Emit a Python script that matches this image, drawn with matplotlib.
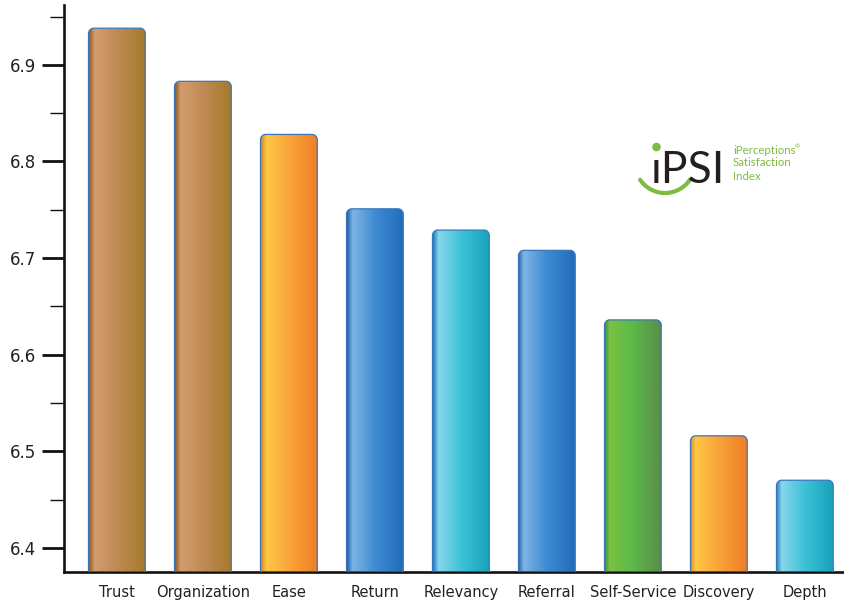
import numpy as np
import matplotlib
matplotlib.use("Agg")
import matplotlib.pyplot as plt
from matplotlib.colors import LinearSegmentedColormap
from matplotlib.path import Path
from matplotlib.patches import PathPatch, Circle
from matplotlib.ticker import MultipleLocator, FormatStrFormatter

categories = ["Trust", "Organization", "Ease", "Return", "Relevancy",
              "Referral", "Self-Service", "Discovery", "Depth"]
scores = [6.938, 6.883, 6.828, 6.751, 6.729, 6.708, 6.636, 6.516, 6.470]
bar_styles = ["bronze", "bronze", "orange", "blue", "cyan",
              "blue", "green", "orange", "cyan"]

# horizontal gradient stops: dark edge, highlight, middle, shaded side
palettes = {
    "bronze": ["#8a5c28", "#d39c6e", "#bf8a55", "#a57a2b"],
    "orange": ["#d88a1c", "#ffc746", "#f9a43a", "#ef7e25"],
    "blue":   ["#1e5fae", "#7fb4e4", "#3d8bd2", "#216cb8"],
    "cyan":   ["#1a7cc4", "#88d6ea", "#3cc2d8", "#17a2bb"],
    "green":  ["#2b8b3c", "#7cc142", "#5bb94a", "#5b8d47"],
}
stops = [0.0, 0.1, 0.5, 1.0]

fig = plt.figure(figsize=(8.44, 6.02), dpi=100)
ax = fig.add_axes([64 / 844, 30 / 602, 1 - 64 / 844, 567 / 602])

ymin, ymax = 6.375, 6.962
width = 0.66
x = np.arange(len(categories))


def rounded_top(x0, x1, y0, y1, rx, ry):
    k = 0.5523
    verts = [(x0, y0), (x0, y1 - ry),
             (x0, y1 - ry + k * ry), (x0 + rx - k * rx, y1), (x0 + rx, y1),
             (x1 - rx, y1),
             (x1 - rx + k * rx, y1), (x1, y1 - ry + k * ry), (x1, y1 - ry),
             (x1, y0), (x0, y0)]
    codes = [Path.MOVETO, Path.LINETO,
             Path.CURVE4, Path.CURVE4, Path.CURVE4,
             Path.LINETO,
             Path.CURVE4, Path.CURVE4, Path.CURVE4,
             Path.LINETO, Path.CLOSEPOLY]
    return Path(verts, codes)


grad = np.linspace(0, 1, 256).reshape(1, -1)
for xi, val, st in zip(x, scores, bar_styles):
    x0, x1 = xi - width / 2, xi + width / 2
    cmap = LinearSegmentedColormap.from_list(st, list(zip(stops, palettes[st])))
    path = rounded_top(x0, x1, ymin, val, 0.06, 0.0055)
    clip = PathPatch(path, facecolor="none", edgecolor="none")
    ax.add_patch(clip)
    im = ax.imshow(grad, extent=[x0, x1, ymin, val], aspect="auto",
                   cmap=cmap, interpolation="bilinear", zorder=2)
    im.set_clip_path(clip)
    ax.add_patch(PathPatch(path, facecolor="none", edgecolor="#3b76bb",
                           lw=0.9, zorder=3))

ax.set_xlim(-0.615, 8.455)
ax.set_ylim(ymin, ymax)
ax.set_xticks(x)
ax.set_xticklabels(categories)
ax.tick_params(axis="x", length=0, pad=9.5, labelsize=10.5)
ax.yaxis.set_major_locator(MultipleLocator(0.1))
ax.yaxis.set_minor_locator(MultipleLocator(0.05))
ax.yaxis.set_major_formatter(FormatStrFormatter("%.1f"))
ax.tick_params(axis="y", which="major", length=16, width=2, pad=4,
               labelsize=12, colors="#111111")
ax.tick_params(axis="y", which="minor", length=10, width=1, color="#111111")
for lab in ax.get_xticklabels() + ax.get_yticklabels():
    lab.set_color("#222222")
for side in ("top", "right"):
    ax.spines[side].set_visible(False)
for side in ("left", "bottom"):
    ax.spines[side].set_linewidth(1.9)
    ax.spines[side].set_color("#111111")

# iPSI logo in pixel coordinates
lg = fig.add_axes([0, 0, 1, 1], zorder=5)
lg.set_xlim(0, 844)
lg.set_ylim(602, 0)
lg.axis("off")
lg.patch.set_alpha(0)
green = "#7dbb42"
lg.text(651, 183, "\u0131PSI", fontsize=32, family="Lato", weight="normal",
        color="#231f20", va="baseline", ha="left")
lg.add_patch(Circle((656.5, 147), 3.6, color=green))
t = np.radians(np.linspace(34, 146, 60))
lg.plot(665 + 30 * np.cos(t), 163 + 30 * np.sin(t), color=green, lw=3,
        solid_capstyle="round")
for yy, s in zip([150, 163, 177], ["iPerceptions", "Satisfaction", "Index"]):
    lg.text(733, yy, s, fontsize=8.3, family="Lato", color=green,
            va="center", ha="left")
lg.text(795, 147, "\u00ae", fontsize=4.5, family="Lato", color=green,
        va="center", ha="left")

fig.savefig("out.png", dpi=100)
